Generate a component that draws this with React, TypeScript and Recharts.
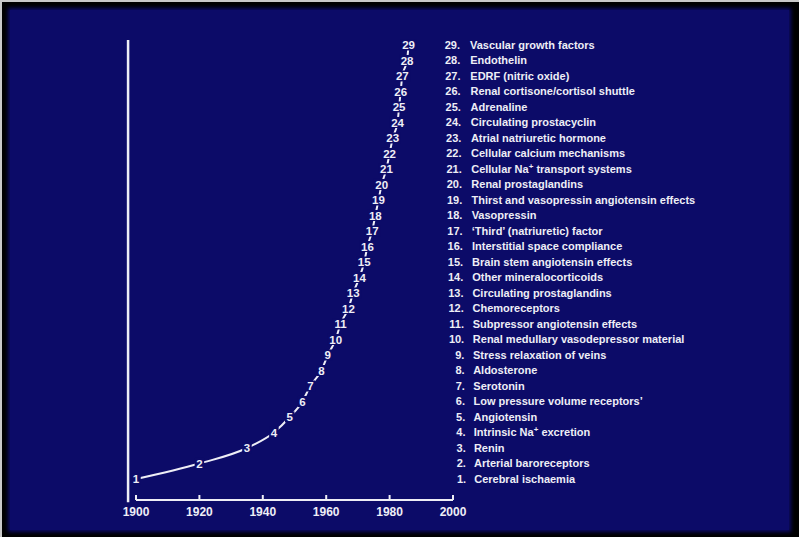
import React from 'react';
import { ComposedChart, Line, XAxis, YAxis, ReferenceLine } from 'recharts';

// year each factor was recognised
const years = [
  1900, 1920, 1935, 1943.5, 1948.5, 1952.5, 1955, 1958.5, 1960.5, 1963,
  1964.5, 1967, 1968.5, 1970.5, 1972, 1973, 1974.5, 1975.5, 1976.5, 1977.5,
  1979, 1980, 1981, 1982.5, 1983, 1983.5, 1984, 1985.5, 1986,
];
const ranks = [
  1, 2, 3, 4, 5, 6, 7, 8, 9, 10, 11, 12, 13, 14, 15, 16, 17, 18, 19, 20,
  21, 22, 23, 24, 25, 26, 27, 28, 29,
];
const factors = [
  'Cerebral ischaemia',
  'Arterial baroreceptors',
  'Renin',
  'Intrinsic Na+ excretion',
  'Angiotensin',
  'Low pressure  volume receptors’',
  'Serotonin',
  'Aldosterone',
  'Stress relaxation of veins',
  'Renal medullary vasodepressor material',
  'Subpressor angiotensin effects',
  'Chemoreceptors',
  'Circulating prostaglandins',
  'Other mineralocorticoids',
  'Brain stem angiotensin effects',
  'Interstitial space compliance',
  '‘Third’ (natriuretic) factor',
  'Vasopressin',
  'Thirst and vasopressin angiotensin effects',
  'Renal prostaglandins',
  'Cellular Na+ transport systems',
  'Cellular calcium mechanisms',
  'Atrial natriuretic hormone',
  'Circulating prostacyclin',
  'Adrenaline',
  'Renal cortisone/cortisol shuttle',
  'EDRF (nitric oxide)',
  'Endothelin',
  'Vascular growth factors',
];
const yearTicks = [1900, 1920, 1940, 1960, 1980, 2000];

const data = ranks.map((r, i) => ({ year: years[i], rank: r, name: factors[i] }));

const BG = '#0c0b68';
const INK = '#eeeef6';
const FONT = '"Liberation Sans", Arial, Helvetica, sans-serif';

function YearTick(props: any) {
  const { x, y, payload } = props;
  return (
    <g>
      <line x1={x} x2={x} y1={y} y2={y - 5} stroke={INK} strokeWidth={2} />
      <text x={x} y={y + 16} textAnchor="middle" fill={INK} fontSize={12} fontWeight="bold" fontFamily={FONT}>
        {payload.value}
      </text>
    </g>
  );
}

// text with "Na+" -> superscript plus
function withSup(s: string) {
  const parts = s.split('+');
  if (parts.length === 1) return s;
  return (
    <>
      {parts[0]}
      <tspan dy={-4} fontSize={8}>+</tspan>
      <tspan dy={4}>{parts[1]}</tspan>
    </>
  );
}

function FactorTick(props: any) {
  const { x, y, payload } = props;
  const rank = payload.value as number;
  const item = data.find((d) => d.rank === rank);
  if (!item) return null;
  const drift = 29 - rank;
  return (
    <g fontFamily={FONT} fontWeight="bold" fontSize={11} fill={INK}>
      <text x={x + 7 + drift * 0.22} y={y} dy="0.36em" textAnchor="end">{rank + '.'}</text>
      <text x={x + 17 + drift * 0.15} y={y} dy="0.36em">{withSup(item.name)}</text>
    </g>
  );
}

function RankDot(props: any) {
  const { cx, cy, payload } = props;
  const label = String(payload.rank);
  const w = label.length * 6.5 + 3;
  return (
    <g>
      <rect x={cx - w / 2} y={cy - 5.5} width={w} height={11} fill={BG} />
      <text x={cx} y={cy} dy="0.36em" textAnchor="middle" fill={INK} fontSize={11.5} fontWeight="bold" fontFamily={FONT}>
        {label}
      </text>
    </g>
  );
}

export default function App() {
  return (
    <div style={{ position: 'fixed', left: 0, top: 0, width: 799, height: 537, background: '#000', overflow: 'hidden' }}>
      <div style={{ position: 'absolute', left: 0, top: 0, width: 2, height: 537, background: '#c9c9c9' }} />
      <div style={{ position: 'absolute', left: 0, top: 0, width: 799, height: 2, background: '#c9c9c9' }} />
      <div
        style={{
          position: 'absolute', left: 10, top: 10, width: 779, height: 520, background: BG,
          boxShadow: '0 0 4px 2px ' + BG,
        }}
      />
      <div style={{ position: 'absolute', left: 0, top: 0 }}>
        <ComposedChart
          width={799}
          height={537}
          data={data}
          margin={{ top: 40, right: 46, bottom: 7, left: 136 }}
        >
          <XAxis
            type="number"
            dataKey="year"
            domain={[1900, 2000]}
            ticks={yearTicks}
            height={30}
            axisLine={{ stroke: INK, strokeWidth: 2 }}
            tickLine={false}
            tickSize={0}
            tickMargin={0}
            tick={<YearTick />}
            interval={0}
          />
          <YAxis
            type="number"
            dataKey="rank"
            orientation="right"
            domain={[-0.355, 29.32]}
            ticks={ranks}
            width={300}
            axisLine={false}
            tickLine={false}
            tickSize={0}
            tickMargin={0}
            tick={<FactorTick />}
            interval={0}
          />
          <ReferenceLine
            segment={[{ x: 1897.5, y: -0.5 }, { x: 1897.5, y: 29.32 }]}
            stroke={INK}
            strokeWidth={2.5}
            ifOverflow="visible"
          />
          <Line
            type="monotone"
            dataKey="rank"
            stroke={INK}
            strokeWidth={2}
            dot={(p: any) => <RankDot key={p.index} {...p} />}
            activeDot={false}
            isAnimationActive={false}
          />
        </ComposedChart>
      </div>
    </div>
  );
}
